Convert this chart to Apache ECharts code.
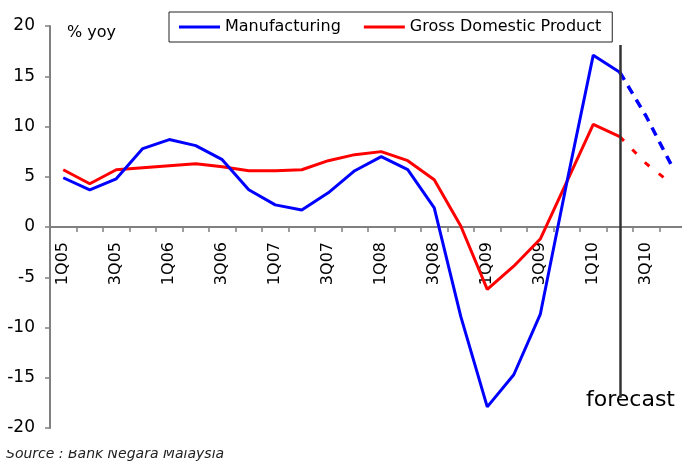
<!DOCTYPE html>
<html>
<head>
<meta charset="utf-8">
<script src="https://cdn.jsdelivr.net/npm/echarts@6/dist/echarts.min.js"></script>
<style>
html,body{margin:0;padding:0;background:#fff;}
#chart{width:682px;height:466px;}
</style>
</head>
<body>
<div id="chart"></div>
<script>
const quarters = ['1Q05','2Q05','3Q05','4Q05','1Q06','2Q06','3Q06','4Q06','1Q07','2Q07','3Q07','4Q07','1Q08','2Q08','3Q08','4Q08','1Q09','2Q09','3Q09','4Q09','1Q10','2Q10','3Q10','4Q10'];
const manufacturing = [4.9,3.7,4.8,7.8,8.7,8.1,6.7,3.7,2.2,1.7,3.4,5.6,7.0,5.7,1.9,-8.9,-17.9,-14.7,-8.7,4.4,17.1,15.4];
const manufacturingForecast = [11.0,5.9];
const gdp = [5.7,4.3,5.7,5.9,6.1,6.3,6.0,5.6,5.6,5.7,6.6,7.2,7.5,6.6,4.7,0.1,-6.2,-3.9,-1.2,4.5,10.2,9.0];
const gdpForecast = [6.3,4.2];
const forecastStart = '2Q10';
const forecastLineRange = [18.1, -17.0];
const yMin = -20, yMax = 20, yStep = 5;

const FONT = 'DejaVu Sans';

function forecastSeries(actual, fc) {
  const arr = quarters.map(() => null);
  const start = actual.length - 1;
  arr[start] = actual[start];
  fc.forEach((v, i) => { arr[start + 1 + i] = v; });
  return arr;
}

const chart = echarts.init(document.getElementById('chart'), null, {renderer: 'canvas'});
chart.setOption({
  animation: false,
  backgroundColor: '#fff',
  textStyle: {fontFamily: FONT},
  grid: {left: 50, top: 26, width: 636, bottom: 38, containLabel: false, outerBoundsMode: 'none'},
  legend: {
    left: 169, top: 12,
    padding: [7, 11, 7, 10],
    borderColor: '#222', borderWidth: 1,
    icon: 'rect',
    itemWidth: 41, itemHeight: 3, itemGap: 23,
    data: ['Manufacturing', 'Gross Domestic Product'],
    textStyle: {fontFamily: FONT, fontSize: 16, color: '#000', lineHeight: 16}
  },
  xAxis: {
    type: 'category',
    data: quarters,
    boundaryGap: true,
    offset: -201,
    axisLine: {onZero: false, lineStyle: {color: '#808080', width: 2}},
    axisTick: {show: true, interval: 0, length: 5, lineStyle: {color: '#808080', width: 1.5}},
    axisLabel: {interval: 1, rotate: 90, margin: 15, fontSize: 16, color: '#000', fontFamily: FONT},
    splitLine: {show: false}
  },
  yAxis: {
    type: 'value',
    min: yMin, max: yMax, interval: yStep,
    axisLine: {show: true, lineStyle: {color: '#808080', width: 2}},
    axisTick: {show: true, length: 5, lineStyle: {color: '#808080', width: 1.5}},
    axisLabel: {margin: 15, fontSize: 17, color: '#000', fontFamily: FONT},
    splitLine: {show: false}
  },
  series: [
    {
      name: 'Manufacturing', type: 'line', data: manufacturing,
      symbol: 'none', showSymbol: false,
      lineStyle: {color: '#0000ff', width: 3}, itemStyle: {color: '#0000ff'},
      z: 3,
      markLine: {
        silent: true, symbol: ['none', 'none'],
        label: {show: false},
        lineStyle: {color: '#333', width: 2.5, type: 'solid'},
        data: [[{coord: [forecastStart, forecastLineRange[0]]}, {coord: [forecastStart, forecastLineRange[1]]}]]
      }
    },
    {
      name: 'Gross Domestic Product', type: 'line', data: gdp,
      symbol: 'none', showSymbol: false,
      lineStyle: {color: '#ff0000', width: 3}, itemStyle: {color: '#ff0000'},
      z: 2
    },
    {
      name: 'Manufacturing', type: 'line', data: forecastSeries(manufacturing, manufacturingForecast),
      symbol: 'none', showSymbol: false,
      lineStyle: {color: '#0000ff', width: 3.5, type: [9, 7]}, itemStyle: {color: '#0000ff'},
      z: 3
    },
    {
      name: 'Gross Domestic Product', type: 'line', data: forecastSeries(gdp, gdpForecast),
      symbol: 'none', showSymbol: false,
      lineStyle: {color: '#ff0000', width: 3, type: [6, 12]}, itemStyle: {color: '#ff0000'},
      z: 2
    }
  ],
  graphic: [
    {type: 'text', left: 67, top: 25, style: {text: '% yoy', fontFamily: FONT, fontSize: 16, fill: '#000'}},
    {type: 'text', left: 586, top: 389, style: {text: 'forecast', fontFamily: FONT, fontSize: 22, fill: '#000'}},
    {type: 'text', left: 6, top: 447, z: 10, style: {text: 'Source : Bank Negara Malaysia', fontFamily: FONT, fontStyle: 'italic', fontSize: 14, fill: '#222'}},
    {type: 'rect', left: 0, top: 440, z: 20, shape: {width: 240, height: 10}, style: {fill: '#fff'}}
  ]
});
</script>
</body>
</html>
